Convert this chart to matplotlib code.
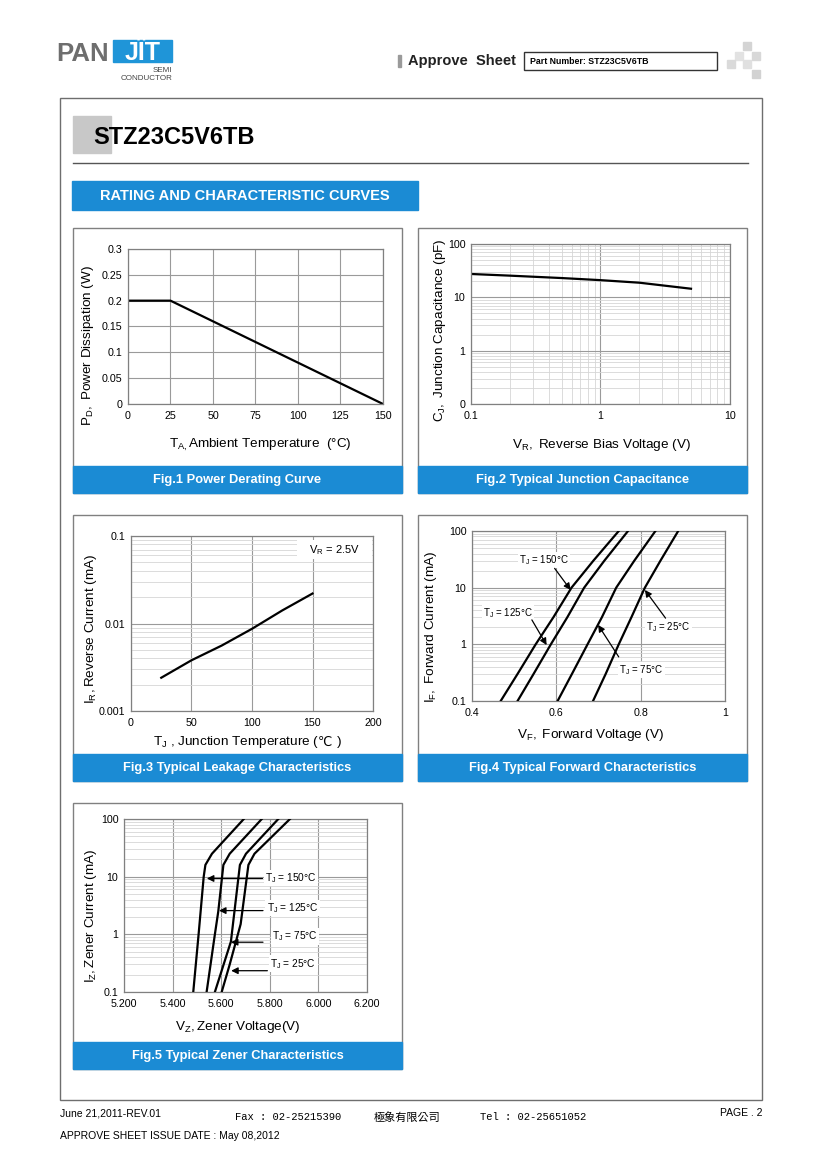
import matplotlib
matplotlib.use('Agg')
import numpy as np
import matplotlib.pyplot as plt
from matplotlib.patches import Rectangle
from matplotlib.ticker import LogLocator, NullFormatter, FixedLocator, FixedFormatter

plt.rcParams['font.family'] = ['Liberation Sans', 'DejaVu Sans']
plt.rcParams['mathtext.fontset'] = 'custom'
plt.rcParams['mathtext.rm'] = 'Liberation Sans'
plt.rcParams['mathtext.it'] = 'Liberation Sans:italic'
plt.rcParams['mathtext.bf'] = 'Liberation Sans:bold'

# ---- data ----
# Fig.1 power derating
ta = [0, 25, 150]
pd_w = [0.2, 0.2, 0.0]

# Fig.2 junction capacitance
vr = [0.1, 0.2, 0.5, 1, 2, 5]
cj = [27.4, 25.5, 23.0, 21.0, 18.8, 14.5]

# Fig.3 leakage
tj = [25, 50, 75, 100, 125, 150]
ir = [0.0024, 0.0038, 0.0056, 0.0087, 0.0141, 0.022]

# Fig.4 forward characteristics
if_ma = [0.1, 0.3, 1, 3, 10, 30, 100]
vf_150 = [0.468, 0.508, 0.551, 0.593, 0.636, 0.688, 0.748]
vf_125 = [0.508, 0.546, 0.587, 0.626, 0.666, 0.714, 0.770]
vf_75 = [0.603, 0.637, 0.674, 0.708, 0.742, 0.785, 0.835]
vf_25 = [0.687, 0.717, 0.748, 0.778, 0.810, 0.847, 0.889]

# Fig.5 zener characteristics
iz_150 = [0.1, 1, 10, 16, 25, 100]
vz_150 = [5.485, 5.507, 5.528, 5.535, 5.562, 5.693]
iz_125 = [0.1, 1, 2.5, 16, 25, 100]
vz_125 = [5.540, 5.574, 5.588, 5.609, 5.635, 5.767]
iz_75 = [0.1, 0.75, 16, 25, 100]
vz_75 = [5.574, 5.640, 5.677, 5.702, 5.835]
iz_25 = [0.1, 0.3, 1.5, 16, 25, 100]
vz_25 = [5.602, 5.635, 5.680, 5.712, 5.737, 5.883]

W, H = 820, 1160
BLUE = '#1b8bd4'
GRID = '#9a9a9a'
MINOR = '#d6d6d6'
EDGE = '#808080'

fig = plt.figure(figsize=(8.2, 11.6), dpi=100)
bg = fig.add_axes([0, 0, 1, 1])
bg.set_xlim(0, W)
bg.set_ylim(H, 0)
bg.axis('off')

def rect(x0, y0, x1, y1, **kw):
    bg.add_patch(Rectangle((x0, y0), x1 - x0, y1 - y0, **kw))

def make_ax(x0, y0, x1, y1):
    return fig.add_axes([x0 / W, 1 - y1 / H, (x1 - x0) / W, (y1 - y0) / H])

# ---- page header ----
bg.text(56, 61, 'PAN', fontsize=18.5, weight='bold', color='#6e6e6e', va='baseline')
rect(113, 40, 172, 62, color='#1f95d8')
bg.text(142.5, 60.5, 'JÏT', fontsize=18, weight='bold', color='white', ha='center', va='baseline')
bg.text(172, 71, 'SEMI', fontsize=5.8, color='#444444', ha='right', va='center')
bg.text(173, 79, 'CONDUCTOR', fontsize=5.8, color='#444444', ha='right', va='center')

rect(398, 55, 401, 67, color='#9a9a9a')
bg.text(408, 61, 'Approve  Sheet', fontsize=10.5, weight='bold', color='#222222', va='center')
rect(524, 52, 717, 70, facecolor='white', edgecolor='#333333', lw=1)
bg.text(530, 61.5, 'Part Number: STZ23C5V6TB', fontsize=6.3, weight='bold', va='center')
for (cx, cy, c) in [(743, 42, '#d4d4d4'), (735, 52, '#e2e2e2'), (752, 52, '#d8d8d8'),
                    (727, 60, '#dadada'), (743, 60, '#e0e0e0'), (752, 70, '#d2d2d2')]:
    rect(cx, cy, cx + 8, cy + 8, color=c)

# ---- frame, title, banner ----
rect(60, 98, 762, 1100, facecolor='none', edgecolor='#6e6e6e', lw=1)
rect(73, 116, 111, 153, color='#c8c8c8')
bg.text(93, 144, 'STZ23C5V6TB', fontsize=17, weight='bold', va='baseline')
bg.plot([73, 748], [163, 163], color='#555555', lw=1)
rect(72, 181, 418, 210, color=BLUE)
bg.text(245, 196, 'RATING AND CHARACTERISTIC CURVES', fontsize=10.5, weight='bold',
        color='white', ha='center', va='center')

# ---- panel boxes and captions ----
panels = [(73, 228, 402, 493, 'Fig.1 Power Derating Curve'),
          (418, 228, 747, 493, 'Fig.2 Typical Junction Capacitance'),
          (73, 515, 402, 781, 'Fig.3 Typical Leakage Characteristics'),
          (418, 515, 747, 781, 'Fig.4 Typical Forward Characteristics'),
          (73, 803, 402, 1069, 'Fig.5 Typical Zener Characteristics')]
for x0, y0, x1, y1, cap in panels:
    rect(x0, y0, x1, y1, facecolor='white', edgecolor=EDGE, lw=1)
    rect(x0, y1 - 27, x1, y1, color=BLUE)
    bg.text((x0 + x1) / 2, y1 - 13.5, cap, fontsize=9.3, weight='bold', color='white',
            ha='center', va='center')

def style(ax, xpad=5, ypad=4):
    for s in ax.spines.values():
        s.set_color(EDGE)
        s.set_linewidth(0.9)
    ax.tick_params(which='both', length=0, labelsize=7.7)
    ax.tick_params(axis='x', pad=xpad)
    ax.tick_params(axis='y', pad=ypad)
    ax.set_axisbelow(True)

def label(x, y, s, rot=0, size=9.7):
    bg.text(x, y, s, fontsize=size, rotation=rot, ha='center', va='center')

# ---- Fig.1 ----
ax1 = make_ax(128, 249, 383, 404)
ax1.plot(ta, pd_w, color='black', lw=1.6)
ax1.set_xlim(0, 150)
ax1.set_ylim(0, 0.3)
ax1.set_xticks(np.arange(0, 151, 25))
ax1.set_yticks([0, 0.05, 0.1, 0.15, 0.2, 0.25, 0.3])
ax1.set_yticklabels(['0', '0.05', '0.1', '0.15', '0.2', '0.25', '0.3'])
ax1.grid(color=GRID, lw=0.8)
style(ax1)
label(88, 346, r'$\mathregular{P_{D},}$ Power Dissipation (W)', rot=90)
label(260, 445, r'$\mathregular{T_{A,}}$Ambient Temperature  (°C)')

# ---- Fig.2 ----
ax2 = make_ax(471, 244, 730, 404)
ax2.plot(vr, cj, color='black', lw=1.6)
ax2.set_xscale('log')
ax2.set_yscale('log')
ax2.set_xlim(0.1, 10)
ax2.set_ylim(0.1, 100)
ax2.xaxis.set_major_locator(FixedLocator([0.1, 1, 10]))
ax2.xaxis.set_major_formatter(FixedFormatter(['0.1', '1', '10']))
ax2.yaxis.set_major_locator(FixedLocator([0.1, 1, 10, 100]))
ax2.yaxis.set_major_formatter(FixedFormatter(['0', '1', '10', '100']))
for a in (ax2.xaxis, ax2.yaxis):
    a.set_minor_locator(LogLocator(base=10, subs=np.arange(2, 10), numticks=20))
    a.set_minor_formatter(NullFormatter())
ax2.grid(which='major', color=GRID, lw=0.8)
ax2.grid(which='minor', color=MINOR, lw=0.6)
style(ax2)
label(440, 330, r'$\mathregular{C_{J},}$ Junction Capacitance (pF)', rot=90)
label(601, 445, r'$\mathregular{V_{R},}$ Reverse Bias Voltage (V)')

# ---- Fig.3 ----
ax3 = make_ax(131, 536, 373, 711)
ax3.plot(tj, ir, color='black', lw=1.6, zorder=3)
ax3.set_yscale('log')
ax3.set_xlim(0, 200)
ax3.set_ylim(0.001, 0.1)
ax3.set_xticks([0, 50, 100, 150, 200])
ax3.yaxis.set_major_locator(FixedLocator([0.001, 0.01, 0.1]))
ax3.yaxis.set_major_formatter(FixedFormatter(['0.001', '0.01', '0.1']))
ax3.yaxis.set_minor_locator(LogLocator(base=10, subs=np.arange(2, 10), numticks=20))
ax3.yaxis.set_minor_formatter(NullFormatter())
ax3.xaxis.grid(True, which='major', color=GRID, lw=0.8)
ax3.yaxis.grid(True, which='major', color=GRID, lw=0.8)
ax3.yaxis.grid(True, which='minor', color=MINOR, lw=0.6)
style(ax3)
ax3.add_patch(Rectangle((0.686, 0.87), 0.31, 0.105, transform=ax3.transAxes,
                        facecolor='white', edgecolor='none', zorder=2))
ax3.text(0.84, 0.922, r'$\mathregular{V_R}$ = 2.5V', transform=ax3.transAxes,
         fontsize=8, ha='center', va='center', zorder=3)
label(91, 629, r'$\mathregular{I_{R},}$Reverse Current (mA)', rot=90)
label(236, 742, r'$\mathregular{T_J}$ , Junction Temperature (')
bg.text(318, 742, '℃', fontsize=9.2, family='DejaVu Sans', ha='left', va='center')
bg.text(337, 742, ')', fontsize=9.7, ha='left', va='center')

# ---- Fig.4 ----
ax4 = make_ax(472, 531, 725, 701)
for v in (vf_150, vf_125, vf_75, vf_25):
    ax4.plot(v, if_ma, color='black', lw=1.6, zorder=3, solid_joinstyle='round')
ax4.set_yscale('log')
ax4.set_xlim(0.4, 1.0)
ax4.set_ylim(0.1, 100)
ax4.set_xticks([0.4, 0.6, 0.8, 1.0])
ax4.set_xticklabels(['0.4', '0.6', '0.8', '1'])
ax4.yaxis.set_major_locator(FixedLocator([0.1, 1, 10, 100]))
ax4.yaxis.set_major_formatter(FixedFormatter(['0.1', '1', '10', '100']))
ax4.yaxis.set_minor_locator(LogLocator(base=10, subs=np.arange(2, 10), numticks=20))
ax4.yaxis.set_minor_formatter(NullFormatter())
ax4.xaxis.grid(True, which='major', color=GRID, lw=0.8)
ax4.yaxis.grid(True, which='major', color=GRID, lw=0.8)
ax4.yaxis.grid(True, which='minor', color=MINOR, lw=0.6)
style(ax4)
arrow = dict(arrowstyle='-|>', color='black', lw=0.9, mutation_scale=10, shrinkA=0, shrinkB=0)
box = dict(facecolor='white', edgecolor='none', pad=1)
fwd_notes = [('150', (0.571, 30.8), (0.596, 21.9), (0.634, 9.1)),
             ('125', (0.485, 3.5), (0.542, 2.7), (0.577, 0.97)),
             ('25', (0.865, 2.05), (0.859, 2.9), (0.810, 9.1)),
             ('75', (0.802, 0.35), (0.748, 0.6), (0.699, 2.2))]
for t, txt_xy, start, tip in fwd_notes:
    ax4.text(*txt_xy, r'$\mathregular{T_J}$ = %s°C' % t, fontsize=7,
             ha='center', va='center', bbox=box, zorder=4)
    ax4.annotate('', xy=tip, xytext=start, arrowprops=arrow, zorder=5)
label(431, 627, r'$\mathregular{I_{F},}$ Forward Current (mA)', rot=90)
label(591, 735, r'$\mathregular{V_{F},}$ Forward Voltage (V)')

# ---- Fig.5 ----
ax5 = make_ax(124, 819, 367, 992)
for v, i in ((vz_150, iz_150), (vz_125, iz_125), (vz_75, iz_75), (vz_25, iz_25)):
    ax5.plot(v, i, color='black', lw=1.6, zorder=3, solid_joinstyle='round')
ax5.set_yscale('log')
ax5.set_xlim(5.2, 6.2)
ax5.set_ylim(0.1, 100)
ax5.set_xticks([5.2, 5.4, 5.6, 5.8, 6.0, 6.2])
ax5.set_xticklabels(['5.200', '5.400', '5.600', '5.800', '6.000', '6.200'])
ax5.yaxis.set_major_locator(FixedLocator([0.1, 1, 10, 100]))
ax5.yaxis.set_major_formatter(FixedFormatter(['0.1', '1', '10', '100']))
ax5.yaxis.set_minor_locator(LogLocator(base=10, subs=np.arange(2, 10), numticks=20))
ax5.yaxis.set_minor_formatter(NullFormatter())
ax5.xaxis.grid(True, which='major', color=GRID, lw=0.8)
ax5.yaxis.grid(True, which='major', color=GRID, lw=0.8)
ax5.yaxis.grid(True, which='minor', color=MINOR, lw=0.6)
style(ax5)
zen_notes = [('150', (5.781, 9.5), (5.770, 9.3), (5.541, 9.3)),
             ('125', (5.788, 2.86), (5.772, 2.58), (5.591, 2.58)),
             ('75', (5.809, 0.92), (5.772, 0.73), (5.640, 0.73)),
             ('25', (5.802, 0.31), (5.790, 0.234), (5.641, 0.234))]
for t, txt_xy, start, tip in zen_notes:
    ax5.text(*txt_xy, r'$\mathregular{T_J}$ = %s°C' % t, fontsize=7.3,
             ha='left', va='center', bbox=box, zorder=4)
    ax5.annotate('', xy=tip, xytext=start, arrowprops=arrow, zorder=5)
label(91, 916, r'$\mathregular{I_{Z},}$Zener Current (mA)', rot=90)
label(238, 1027, r'$\mathregular{V_{Z},}$Zener Voltage(V)')

# ---- footer ----
bg.text(60, 1114, 'June 21,2011-REV.01', fontsize=7.5, va='center')
bg.text(235, 1117, 'Fax : 02-25215390', fontsize=7.6, family='Liberation Mono', va='center')
bg.text(374, 1117, '極象有限公司', fontsize=8, family=['Noto Sans CJK TC', 'DejaVu Sans'], va='center')
bg.text(480, 1117, 'Tel : 02-25651052', fontsize=7.6, family='Liberation Mono', va='center')
bg.text(763, 1113, 'PAGE . 2', fontsize=7.5, ha='right', va='center')
bg.text(60, 1136, 'APPROVE SHEET ISSUE DATE : May 08,2012', fontsize=7.5, va='center')

fig.savefig('out.png', dpi=100, facecolor='white')
